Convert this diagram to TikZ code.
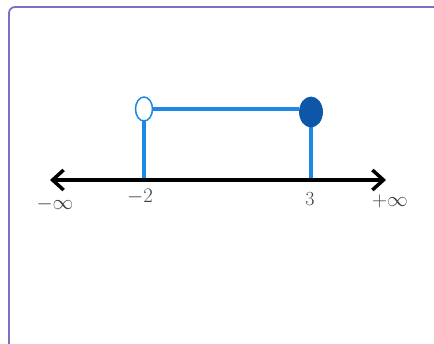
\documentclass[tikz,border=0pt]{standalone}
\usepackage{amsmath}
\usetikzlibrary{arrows.meta,shapes.geometric}
\definecolor{framec}{HTML}{7B70C8}
\definecolor{lineblue}{HTML}{1E88E5}
\definecolor{dotblue}{HTML}{0D56A8}
\definecolor{labgray}{HTML}{404040}
\begin{document}
\begin{tikzpicture}[x=1pt,y=-1pt,
  frame/.style={draw=framec,line width=1.8pt,rounded corners=6pt},
  axis/.style={line width=4pt,black,{Straight Barb[length=11pt,width=20pt,line width=3.5pt]}-{Straight Barb[length=11pt,width=20pt,line width=3.5pt]}},
  seg/.style={draw=lineblue,line width=4pt},
  lab/.style={font=\fontsize{20}{22}\selectfont,text=labgray,inner sep=0pt}]
\useasboundingbox (0,0) rectangle (434,344);
\fill[white] (0,0) rectangle (434,344);
\draw[frame] (9,350) -- (9,7) -- (440,7);
\coordinate (L) at (50,180);
\coordinate (R) at (386,180);
\coordinate (a0) at (144,180);
\coordinate (b0) at (311,180);
\draw[seg] (a0) -- (144,109);
\draw[seg] (b0) -- (311,112);
\node[draw=lineblue,line width=1.5pt,fill=white,minimum width=17pt,minimum height=24pt,inner sep=0pt,shape=ellipse] (open) at (144,109) {};
\node[draw=dotblue,fill=dotblue,line width=0.8pt,minimum width=23pt,minimum height=30pt,inner sep=0pt,shape=ellipse] (closed) at (311,112) {};
\draw[seg] (open.east) -- (closed.west |- open.east);
\draw[axis] (L) -- (R);
\node[lab] (minf) at (55,204) {$\mathbf{-}\infty$};
\node[lab] (m2) at (140,197) {$\mathbf{-}2$};
\node[lab] (t3) at (310,199) {3};
\node[lab] (pinf) at (390,201) {$\mathbf{+}\infty$};
\end{tikzpicture}
\end{document}
